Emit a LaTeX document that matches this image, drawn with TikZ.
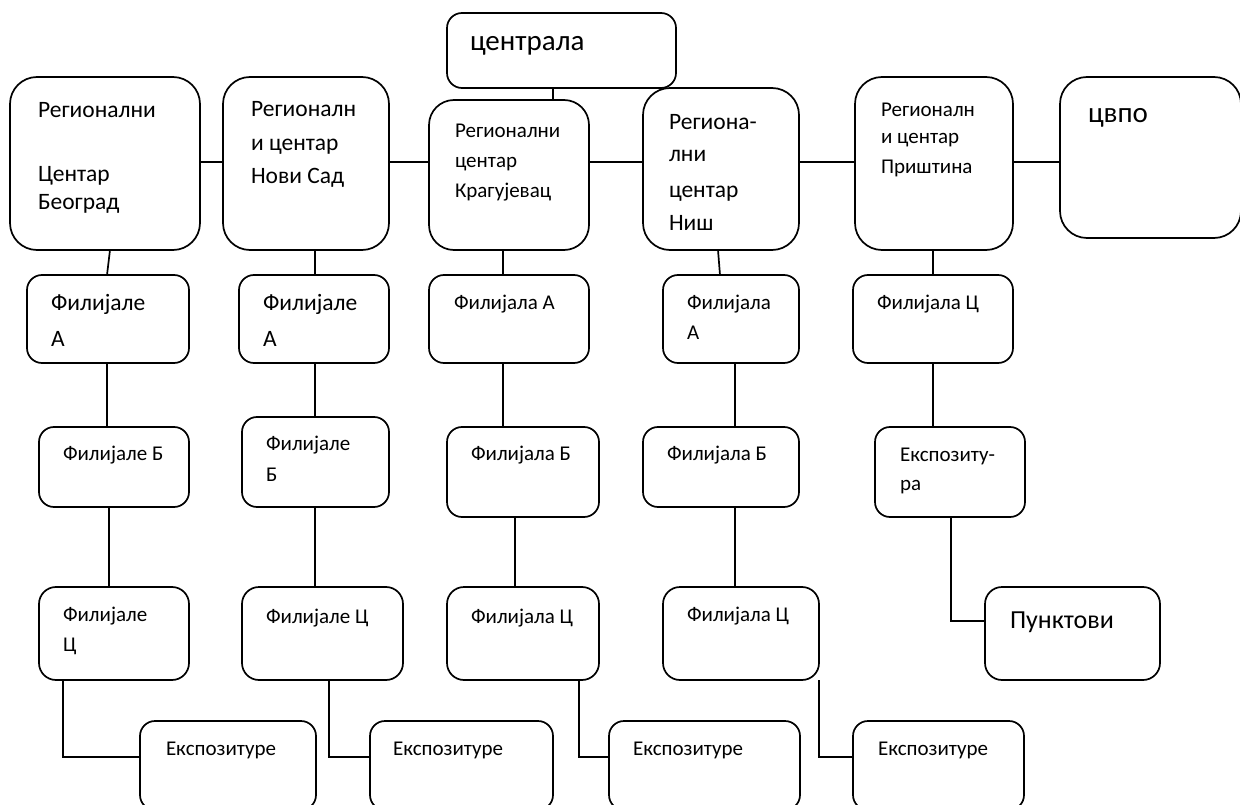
\documentclass[tikz,border=0pt]{standalone}
\usepackage{fontspec}
\setmainfont{Carlito}
\tikzset{
  box/.style={draw, line width=1.7pt, inner sep=0pt, outer sep=0pt, fill=white},
  con/.style={line width=1.7pt},
  lbl/.style={anchor=base west, inner sep=0pt, outer sep=0pt},
  big/.style={font=\fontsize{29}{29}\selectfont},
  mid/.style={font=\fontsize{23.5}{23.5}\selectfont},
  sml/.style={font=\fontsize{21}{21}\selectfont},
}
% \rbox{name}{x1}{y1}{x2}{y2}{corner radius}
\newcommand\rbox[6]{\node[box, rounded corners=#6pt,
  minimum width={(#4-#2)*1pt}, minimum height={(#5-#3)*1pt}]
  (#1) at ({(#2+#4)/2},{(#3+#5)/2}) {};}
\begin{document}
\begin{tikzpicture}[x=1pt, y=-1pt]
\useasboundingbox (0,0) rectangle (1240,805);
\clip (0,0) rectangle (1240,805);

% head office and regional centres
\rbox{c}{447}{13}{676}{88}{15}
\rbox{b1}{10}{77}{200}{250}{27}
\rbox{b2}{223}{77}{389}{250}{27}
\rbox{b3}{429}{100}{589}{250}{25}
\rbox{b4}{643}{88}{799}{250}{27}
\rbox{b5}{855}{77}{1013}{250}{27}
\rbox{cv}{1060}{77}{1241}{238}{27}

% branches A
\rbox{fa1}{27}{275}{189}{363}{15}
\rbox{fa2}{239}{275}{389}{363}{15}
\rbox{fa3}{429}{275}{589}{363}{15}
\rbox{fa4}{663}{275}{799}{363}{15}
\rbox{fa5}{853}{275}{1013}{363}{15}

% branches B
\rbox{fb1}{39}{427}{189}{507}{15}
\rbox{fb2}{242}{417}{389}{507}{15}
\rbox{fb3}{447}{427}{599}{517}{15}
\rbox{fb4}{643}{427}{799}{507}{15}
\rbox{ex5}{875}{427}{1025}{517}{15}

% branches C
\rbox{fc1}{39}{587}{189}{680}{17}
\rbox{fc2}{242}{587}{403}{680}{17}
\rbox{fc3}{447}{587}{599}{680}{17}
\rbox{fc4}{663}{587}{819}{680}{17}
\rbox{pk}{985}{587}{1160}{680}{17}

% agencies
\rbox{e1}{140}{721}{316}{810}{15}
\rbox{e2}{370}{721}{553}{810}{15}
\rbox{e3}{609}{721}{800}{810}{15}
\rbox{e4}{853}{721}{1024}{810}{15}

% labels
\node[lbl,big] (tc) at (470,51) {централа};
\node[lbl,mid] (t1a) at (38,118) {Регионални};
\node[lbl,mid] (t1b) at (38,182) {Центар};
\node[lbl,mid] (t1c) at (38,210) {Београд};
\node[lbl,mid] (t2a) at (251,117) {Регионалн};
\node[lbl,mid] (t2b) at (251,151) {и центар};
\node[lbl,mid] (t2c) at (251,184) {Нови Сад};
\node[lbl,sml] (t3a) at (455,138) {Регионални};
\node[lbl,sml] (t3b) at (455,168) {центар};
\node[lbl,sml] (t3c) at (455,198) {Крагујевац};
\node[lbl,mid] (t4a) at (669,130) {Региона-};
\node[lbl,mid] (t4b) at (669,162) {лни};
\node[lbl,mid] (t4c) at (669,198) {центар};
\node[lbl,mid] (t4d) at (669,231) {Ниш};
\node[lbl,sml] (t5a) at (881,117) {Регионалн};
\node[lbl,sml] (t5b) at (881,144) {и центар};
\node[lbl,sml] (t5c) at (881,174) {Приштина};
\node[lbl,big] (tcv) at (1088,123) {цвпо};

\node[lbl,mid] (ta1a) at (51,310) {Филијале};
\node[lbl,mid] (ta1b) at (51,346) {А};
\node[lbl,mid] (ta2a) at (263,310) {Филијале};
\node[lbl,mid] (ta2b) at (263,346) {А};
\node[lbl,sml] (ta3) at (454,309) {Филијала А};
\node[lbl,sml] (ta4a) at (687,309) {Филијала};
\node[lbl,sml] (ta4b) at (687,339) {А};
\node[lbl,sml] (ta5) at (877,309) {Филијала Ц};

\node[lbl,sml] (tb1) at (63,460) {Филијале Б};
\node[lbl,sml] (tb2a) at (266,450) {Филијале};
\node[lbl,sml] (tb2b) at (266,481) {Б};
\node[lbl,sml] (tb3) at (471,460) {Филијала Б};
\node[lbl,sml] (tb4) at (667,460) {Филијала Б};
\node[lbl,sml] (tx5a) at (900,461) {Експозиту-};
\node[lbl,sml] (tx5b) at (900,490) {ра};

\node[lbl,sml] (tc1a) at (63,621) {Филијале};
\node[lbl,sml] (tc1b) at (63,651) {Ц};
\node[lbl,sml] (tc2) at (266,623) {Филијале Ц};
\node[lbl,sml] (tc3) at (471,623) {Филијала Ц};
\node[lbl,sml] (tc4) at (687,621) {Филијала Ц};
\node[lbl,font=\fontsize{26}{26}\selectfont] (tpk) at (1010,628) {Пунктови};

\node[lbl,sml] (te1) at (166,755) {Експозитуре};
\node[lbl,sml] (te2) at (393,755) {Експозитуре};
\node[lbl,sml] (te3) at (633,755) {Експозитуре};
\node[lbl,sml] (te4) at (878,755) {Експозитуре};

% connectors: top row
\draw[con] (b1.east |- 0,162) -- (b2.west |- 0,162);
\draw[con] (b2.east |- 0,162) -- (b3.west |- 0,162);
\draw[con] (b3.east |- 0,162) -- (b4.west |- 0,162);
\draw[con] (b4.east |- 0,162) -- (b5.west |- 0,162);
\draw[con] (b5.east |- 0,162) -- (cv.west |- 0,162);
\draw[con] (c.south -| 553,0) -- (b3.north -| 553,0);

% connectors: regional centre to branch A
\draw[con] (b1.south -| 110,0) -- (fa1.north -| 107,0);
\draw[con] (b2.south -| 315,0) -- (fa2.north -| 315,0);
\draw[con] (b3.south -| 503,0) -- (fa3.north -| 503,0);
\draw[con] (b4.south -| 718,0) -- (fa4.north -| 720,0);
\draw[con] (b5.south -| 933,0) -- (fa5.north -| 933,0);

% branch A to branch B
\draw[con] (fa1.south -| 107,0) -- (fb1.north -| 107,0);
\draw[con] (fa2.south -| 315,0) -- (fb2.north -| 315,0);
\draw[con] (fa3.south -| 503,0) -- (fb3.north -| 503,0);
\draw[con] (fa4.south -| 735,0) -- (fb4.north -| 735,0);
\draw[con] (fa5.south -| 933,0) -- (ex5.north -| 933,0);

% branch B to branch C
\draw[con] (fb1.south -| 109,0) -- (fc1.north -| 109,0);
\draw[con] (fb2.south -| 315,0) -- (fc2.north -| 315,0);
\draw[con] (fb3.south -| 515,0) -- (fc3.north -| 515,0);
\draw[con] (fb4.south -| 735,0) -- (fc4.north -| 735,0);
\draw[con] (ex5.south -| 951,0) |- (pk.west |- 0,621);

% branch C to agencies
\draw[con] (fc1.south -| 63,0) |- (e1.west |- 0,757);
\draw[con] (fc2.south -| 329,0) |- (e2.west |- 0,757);
\draw[con] (fc3.south -| 579,0) |- (e3.west |- 0,757);
\draw[con] (fc4.south east) |- (e4.west |- 0,757);
\end{tikzpicture}
\end{document}
